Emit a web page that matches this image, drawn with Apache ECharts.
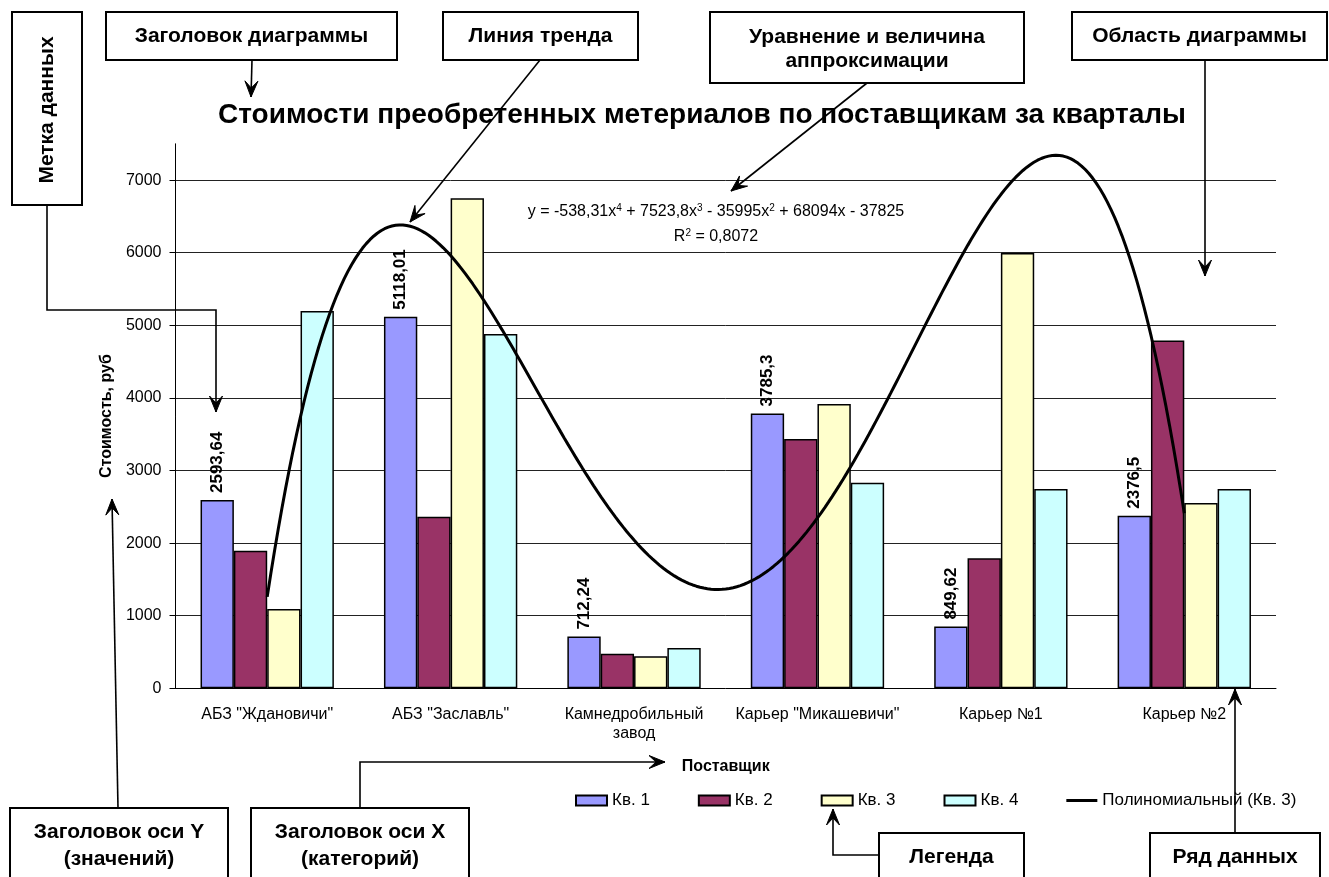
<!DOCTYPE html>
<html>
<head>
<meta charset="utf-8">
<script src="https://cdn.jsdelivr.net/npm/echarts@6/dist/echarts.min.js"></script>
<style>
  html, body { margin: 0; padding: 0; background: #fff; }
  #chart { width: 1329px; height: 877px; }
</style>
</head>
<body>
<div id="chart"></div>
<script>
// Suppliers (categories)
const categories = ['АБЗ "Ждановичи"', 'АБЗ "Заславль"', 'Камнедробильный завод', 'Карьер "Микашевичи"', 'Карьер №1', 'Карьер №2'];
// Quarterly purchase costs, rub
const q1 = [2593.64, 5118.01, 712.24, 3785.3, 849.62, 2376.5];
const q2 = [1895, 2364, 477, 3434, 1790, 4790];
const q3 = [1092, 6750, 441, 3916, 5996, 2552];
const q4 = [5197, 4880, 555, 2832, 2745, 2745];
const seriesNames = ['Кв. 1', 'Кв. 2', 'Кв. 3', 'Кв. 4'];
// Polynomial trend for Кв. 3, coefficients from x^4 down to x^0
const trendCoef = [-538.31, 7523.8, -35995, 68094, -37825];
const trendR2 = 0.8072;
const trendName = 'Полиномиальный (Кв. 3)';
// Value axis ticks
const yMin = 0, yMax = 7500, yStep = 1000;

const FONT = '"Liberation Sans", Arial, sans-serif';
const colors = ['#9999FF', '#993366', '#FFFFCC', '#CCFFFF'];

function fmt(v) { return String(v).replace('.', ','); }
function poly(x) { return trendCoef.reduce((acc, c) => acc * x + c, 0); }

// Trend curve sampled along the category positions 1..N
const trendData = [];
for (let i = 0; i <= (categories.length - 1) * 50; i++) {
  const x = 1 + i / 50;
  trendData.push([x, poly(x)]);
}

// Equation text built from coefficients
function eqText() {
  let s = 'y = ';
  const deg = trendCoef.length - 1;
  trendCoef.forEach((c, i) => {
    const p = deg - i;
    const sign = c < 0 ? '-' : '+';
    const abs = fmt(Math.abs(c));
    if (i === 0) s += (c < 0 ? '-' : '') + abs;
    else s += ' ' + sign + ' ' + abs;
    if (p >= 2) s += 'x{sup|' + p + '}';
    else if (p === 1) s += 'x';
  });
  return s;
}

const barData = [q1, q2, q3, q4];
const bars = barData.map((d, i) => ({
  name: seriesNames[i],
  type: 'bar',
  data: d,
  barGap: '0%',
  barCategoryGap: '27.3%',
  itemStyle: { color: colors[i], borderColor: '#000', borderWidth: 1.5 },
  label: i === 0 ? {
    show: true, position: 'top', rotate: 90, align: 'left', verticalAlign: 'middle',
    distance: 7, fontSize: 17, fontWeight: 'bold', color: '#000', fontFamily: FONT,
    formatter: p => fmt(p.value)
  } : { show: false },
  emphasis: { disabled: true },
  z: 2
}));

// ---- annotation helpers ----
const G = [];
function box(x1, y1, x2, y2) {
  G.push({ type: 'rect', z: 100, shape: { x: x1, y: y1, width: x2 - x1, height: y2 - y1 },
    style: { fill: '#fff', stroke: '#000', lineWidth: 2 } });
}
function txt(t, x, y, size, rot) {
  G.push({ type: 'text', z: 101, x: x, y: y, rotation: rot || 0,
    style: { text: t, fontSize: size || 21, fontWeight: 'bold', fontFamily: FONT, fill: '#000',
      align: 'center', verticalAlign: 'middle' } });
}
function arrow(pts) {
  G.push({ type: 'polyline', z: 100, shape: { points: pts },
    style: { stroke: '#000', lineWidth: 1.6, fill: null } });
  const tip = pts[pts.length - 1], from = pts[pts.length - 2];
  const dx = tip[0] - from[0], dy = tip[1] - from[1];
  const len = Math.hypot(dx, dy), ux = dx / len, uy = dy / len;
  const px = -uy, py = ux;
  const L = 16, W = 6.5, N = 9;
  G.push({ type: 'polygon', z: 100, shape: { points: [
    [tip[0], tip[1]],
    [tip[0] - ux * L + px * W, tip[1] - uy * L + py * W],
    [tip[0] - ux * N, tip[1] - uy * N],
    [tip[0] - ux * L - px * W, tip[1] - uy * L - py * W]
  ] }, style: { fill: '#000', stroke: '#000', lineWidth: 1 } });
}

// Callout lines
arrow([[252, 60], [251, 97]]);
arrow([[540, 60], [410, 222]]);
arrow([[867, 83], [731, 191]]);
arrow([[1205, 60], [1205, 276]]);
arrow([[47, 205], [47, 310], [216, 310], [216, 412]]);
arrow([[118, 808], [112, 499]]);
arrow([[360, 808], [360, 762], [665, 762]]);
arrow([[879, 855], [833, 855], [833, 809]]);
arrow([[1235, 833], [1235, 689]]);

// Callout boxes
box(12, 12, 82, 205); txt('Метка данных', 47, 110, 21, Math.PI / 2);
box(106, 12, 397, 60); txt('Заголовок диаграммы', 251.5, 36);
box(443, 12, 638, 60); txt('Линия тренда', 540.5, 36);
box(710, 12, 1024, 83); txt('Уравнение и величина', 867, 37); txt('аппроксимации', 867, 61);
box(1072, 12, 1327, 60); txt('Область диаграммы', 1199.5, 36);
box(10, 808, 228, 882); txt('Заголовок оси Y', 119, 832); txt('(значений)', 119, 859);
box(251, 808, 469, 882); txt('Заголовок оси X', 360, 832); txt('(категорий)', 360, 859);
box(879, 833, 1024, 882); txt('Легенда', 951.5, 857);
box(1150, 833, 1320, 882); txt('Ряд данных', 1235, 857);

// Trend equation and R²
const supStyle = { sup: { fontSize: 10, fontFamily: FONT, verticalAlign: 'top', padding: [0, 0, 7, 0] } };
G.push({ type: 'text', z: 50, x: 716, y: 212,
  style: { text: eqText(), fontSize: 16, fontFamily: FONT, fill: '#000', align: 'center', verticalAlign: 'middle', rich: supStyle } });
G.push({ type: 'text', z: 50, x: 716, y: 237,
  style: { text: 'R{sup|2} = ' + fmt(trendR2), fontSize: 16, fontFamily: FONT, fill: '#000', align: 'center', verticalAlign: 'middle', rich: supStyle } });

const chart = echarts.init(document.getElementById('chart'), null, { renderer: 'canvas' });
chart.setOption({
  animation: false,
  backgroundColor: '#fff',
  title: {
    text: 'Стоимости преобретенных метериалов по поставщикам за кварталы',
    left: 213, top: 96,
    textStyle: { fontSize: 28, fontWeight: 'bold', fontFamily: FONT, color: '#000' }
  },
  legend: {
    data: seriesNames.map(n => ({ name: n, icon: 'rect' })).concat([{ name: trendName, icon: 'path://M0,0H31V3H0Z' }]),
    left: 575, top: 792, padding: 0,
    itemWidth: 31, itemHeight: 10, itemGap: 48,
    textStyle: { fontSize: 17, fontFamily: FONT, color: '#000' },
    selectedMode: false
  },
  grid: { left: 175.5, right: 53, top: 143.8, bottom: 188.7, containLabel: false },
  xAxis: [{
    type: 'category', data: categories,
    axisLine: { lineStyle: { color: '#000', width: 1 } },
    axisTick: { length: 6, lineStyle: { color: '#000' } },
    axisLabel: { interval: 0, fontSize: 16, fontFamily: FONT, color: '#000', margin: 17, lineHeight: 19,
      formatter: v => v.length > 20 ? v.replace(' ', '\n') : v },
    name: 'Поставщик', nameLocation: 'middle', nameGap: 70,
    nameTextStyle: { fontSize: 16, fontWeight: 'bold', fontFamily: FONT, color: '#000' }
  }, {
    type: 'value', min: 0.5, max: 6.5, show: false
  }],
  yAxis: {
    type: 'value', min: yMin, max: yMax, interval: yStep,
    axisLine: { show: true, lineStyle: { color: '#000', width: 1 } },
    axisTick: { show: true, length: 6, lineStyle: { color: '#000' } },
    axisLabel: { fontSize: 16, fontFamily: FONT, color: '#000', margin: 14, showMaxLabel: false,
      formatter: v => String(v) },
    splitLine: { show: true, showMinLine: false, showMaxLine: false, lineStyle: { color: '#222', width: 1 } },
    name: 'Стоимость, руб', nameLocation: 'middle', nameGap: 52,
    nameTextStyle: { fontSize: 16, fontWeight: 'bold', fontFamily: FONT, color: '#000' }
  },
  series: bars.concat([{
    name: trendName, type: 'line', xAxisIndex: 1, data: trendData,
    showSymbol: false, symbol: 'none', smooth: false,
    lineStyle: { color: '#000', width: 3 }, itemStyle: { color: '#000' },
    emphasis: { disabled: true }, z: 5
  }]),
  graphic: G
});
</script>
</body>
</html>
